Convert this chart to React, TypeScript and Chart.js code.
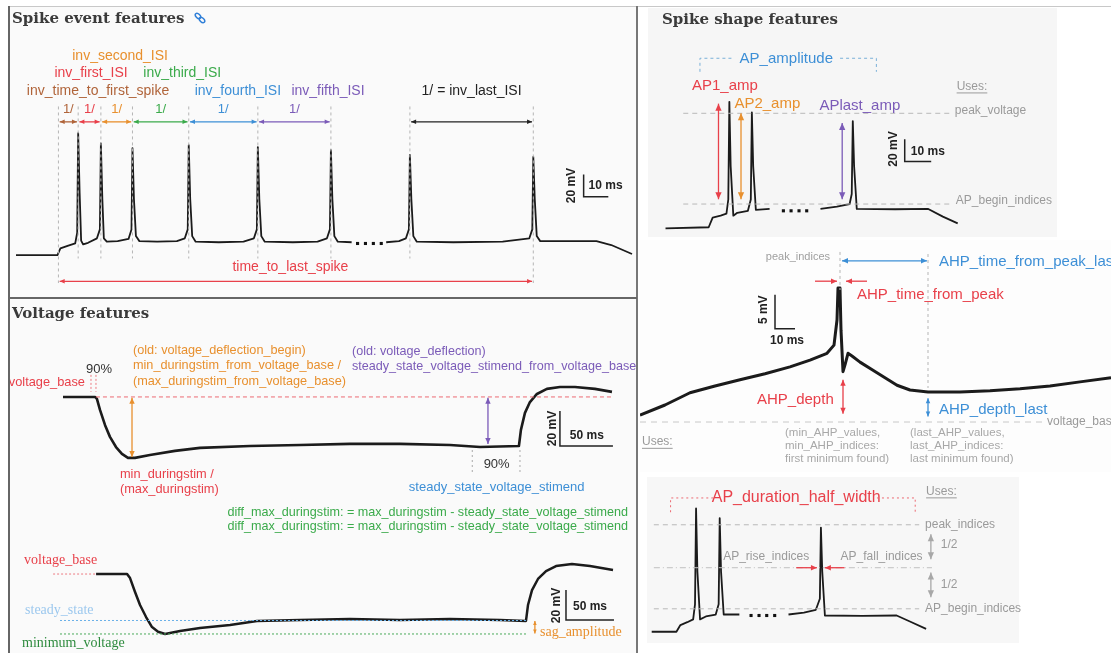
import React, { useEffect, useRef } from "react";
import { Chart, registerables } from "chart.js";
Chart.register(...registerables);

type P = [number, number];

// ================= DATA (ms, mV) =================
// Spike event features
const eventTraceA: P[] = [
  [-17.2, -75], [-0.4, -75], [0.8, -69], [4, -66.5], [6.8, -64.5],
  [7.6, -55], [8, 34], [8.6, -20], [9.2, -62], [10, -65.4], [12, -64], [15.6, -60],
  [16.8, -52], [17.2, 25], [17.8, -25], [18.4, -60], [19.6, -63], [24, -62.5], [28.4, -60.5],
  [29.6, -52], [30, 20.7], [30.6, -25], [31.4, -58], [32.8, -62.5], [40, -63], [48, -62.5], [51.2, -60],
  [52.4, -52], [52.8, 23.3], [53.4, -25], [54.2, -58], [55.6, -63], [65, -63.5], [75, -63], [79.2, -60],
  [80.4, -52], [80.8, 21.6], [81.4, -25], [82.2, -58], [83.6, -63], [95, -63.5], [105, -63], [108.8, -60],
  [110, -52], [110.4, 19], [111, -25], [111.8, -58], [113.2, -63], [118.8, -63.5],
];
const eventTraceB: P[] = [
  [132.8, -63.5], [138, -62.5], [140.8, -60],
  [142, -52], [142.4, 14.6], [143, -25], [143.8, -58], [145.2, -63], [160, -63.5], [180, -63], [190.8, -60],
  [192, -52], [192.4, 12.9], [193, -25], [193.8, -58], [195.2, -62.5], [205, -62.5], [218, -62.5], [224, -66], [232.4, -74],
];
const eventDots: P[] = [[121.2, -64.6], [124.4, -64.6], [127.6, -64.6], [130.8, -64.6]];
const eventSpikeTimes = [8, 17.2, 30, 52.8, 80.8, 110.4, 142.4, 192.4];
const eventStimStart = 0;

// Voltage features
const voltageTrace: P[] = [
  [-31.1, -70], [-0.9, -70], [0.9, -71.1], [3.8, -77.4], [8.5, -86], [13.2, -92.8], [18.9, -98.6],
  [24.5, -102.5], [30.2, -104.8], [36.8, -104.8], [50.9, -103.1], [74.5, -100.8], [98.1, -99.1],
  [145.3, -98], [192.5, -97.4], [239.6, -96.8], [286.8, -96.8], [334, -97.4], [362.3, -98.6], [399, -98],
  [400.9, -88.8], [404.7, -79.1], [409.4, -72.9], [416, -68.3], [425.4, -65.4], [437.7, -64.3],
  [451.9, -64.3], [470.7, -65.4], [486.8, -67.1],
];
const voltageBase = -70;
const voltageMin = -104.8;
const voltageSteady = -97.4;

// Sag
const sagTrace: P[] = [
  [-33.3, -70], [-1, -70], [2.1, -72.7], [7.3, -82], [12.5, -90.7], [18.8, -98.7], [25, -105.4],
  [31.3, -108.5], [38.6, -110], [54.2, -108], [75, -106], [106.3, -104], [134.4, -101.3], [179.2, -100.7],
  [231.3, -100], [283.4, -100.7], [335.5, -100], [387.6, -100.7], [414.7, -101.3], [416.8, -90.7],
  [421, -80.7], [427.2, -73.3], [435.6, -68], [446, -64.7], [462.6, -63.3], [481.4, -64.7], [505.4, -67.3],
];
const sagBase = -70;
const sagSteady = -101;
const sagMinimum = -110;

// Spike shape features (amplitude)
const shapeTraceA: P[] = [
  [-16.7, -76], [-0.4, -75], [1.1, -66.3], [4.1, -64.6], [6.3, -62.8],
  [7, -50], [7.4, 38], [7.9, -20], [8.9, -64.6], [10.4, -62], [14.4, -60.2],
  [15.5, -50], [15.9, 28.5], [16.4, -20], [17.4, -59.3], [22.6, -58.5],
];
const shapeTraceB: P[] = [
  [41.8, -58.5], [48, -56.5], [52.8, -54.1], [53.6, -45], [54, 20.7], [54.5, -20], [55.5, -58.5],
  [70, -58.8], [82.5, -58.5], [88, -65.4], [93.6, -71.5],
];
const shapeDots: P[] = [[27.8, -60.2], [30.7, -60.2], [33.7, -60.2], [36.6, -60.2]];
const shapePeak = 27.7;
const shapeBegin = -54.1;

// AHP
const ahpTrace: P[] = [
  [-99.5, -69], [-87, -67.5], [-74.5, -65.7], [-62, -64.7], [-49.5, -63.8], [-37, -62.9], [-24.5, -61.9],
  [-14.5, -60.9], [-6, -59.9], [-2.5, -58.7], [-1, -55], [-0.5, -50.3], [0.5, -50.3], [1, -56.5],
  [2, -62.6], [3, -61.6], [4.5, -59.9], [6.5, -60.3], [10.5, -61.2], [17, -62.4], [23, -63.5],
  [29, -64.6], [35.5, -65.3], [44.5, -65.6], [60.5, -65.6], [75.5, -65.4], [90.5, -65.1],
  [105.5, -64.7], [120.5, -64.1], [136, -63.5],
];
const ahpBase = -70;

// Half width
const widthTraceA: P[] = [
  [-9.3, -75], [0, -75], [1.5, -68.9], [4.1, -66.3], [6.3, -63.7],
  [7, -50], [7.4, 37.2], [7.9, -20], [8.9, -63.7], [11.1, -61.1], [14.8, -59.3],
  [15.9, -50], [16.3, 28.5], [16.8, -20], [17.8, -59.3], [23.7, -59.3],
];
const widthTraceB: P[] = [
  [42.2, -59.3], [48, -57.5], [52.5, -55], [54, -45], [54.4, 19.8], [54.9, -20], [55.9, -60.2],
  [70, -60.5], [82.9, -60.2], [87.7, -65.4], [94, -72.4],
];
const widthDots: P[] = [[28.1, -60.2], [31.1, -60.2], [34, -60.2], [37, -60.2]];
const widthPeak = 22.4;
const widthHalf = -16.7;
const widthBegin = -54.1;

// ================= STYLE =================
const RED = "#e8404a";
const ORANGE = "#e8902e";
const GREEN = "#3aaa4a";
const BLUE = "#3d8fd6";
const PURPLE = "#7b5bb8";
const BROWN = "#b0643a";
const BLACK = "#222";
const GRAY = "#9a9a9a";
const SANS = '"Liberation Sans", Arial, sans-serif';
const SERIF = '"Liberation Serif", serif';

type Ann =
  | { k: "t"; x: number; y: number; s: string; c: string; z: number; a?: CanvasTextAlign; f?: string; u?: boolean; rot?: boolean; b?: boolean }
  | { k: "l"; p: P[]; c: string; d?: number[]; w?: number }
  | { k: "a"; p1: P; p2: P; c: string; both?: boolean; h?: number; w?: number };

const T = (x: number, y: number, s: string, c: string, z: number, a: CanvasTextAlign = "left", extra: any = {}): Ann => ({ k: "t", x, y, s, c, z, a, ...extra });
const L = (p: P[], c: string, d?: number[], w?: number): Ann => ({ k: "l", p, c, d, w });
const A = (p1: P, p2: P, c: string, both = true, h = 6): Ann => ({ k: "a", p1, p2, c, both, h });

function drawAnns(chart: any, anns: Ann[]) {
  const ctx: CanvasRenderingContext2D = chart.ctx;
  const xs = chart.scales.x, ys = chart.scales.y;
  const X = (v: number) => xs.getPixelForValue(v);
  const Y = (v: number) => ys.getPixelForValue(v);
  ctx.save();
  for (const a of anns) {
    if (a.k === "l") {
      ctx.beginPath();
      ctx.setLineDash(a.d || []);
      ctx.strokeStyle = a.c;
      ctx.lineWidth = a.w || 1;
      a.p.forEach((q, i) => (i ? ctx.lineTo(X(q[0]), Y(q[1])) : ctx.moveTo(X(q[0]), Y(q[1]))));
      ctx.stroke();
    } else if (a.k === "a") {
      const x1 = X(a.p1[0]), y1 = Y(a.p1[1]), x2 = X(a.p2[0]), y2 = Y(a.p2[1]);
      ctx.setLineDash([]);
      ctx.strokeStyle = a.c;
      ctx.fillStyle = a.c;
      ctx.lineWidth = a.w || 1.3;
      ctx.beginPath();
      ctx.moveTo(x1, y1);
      ctx.lineTo(x2, y2);
      ctx.stroke();
      const h = a.h || 6;
      const head = (tx: number, ty: number, fx: number, fy: number) => {
        const ang = Math.atan2(ty - fy, tx - fx);
        ctx.beginPath();
        ctx.moveTo(tx, ty);
        ctx.lineTo(tx - h * Math.cos(ang) + (h * 0.45) * Math.sin(ang), ty - h * Math.sin(ang) - (h * 0.45) * Math.cos(ang));
        ctx.lineTo(tx - h * Math.cos(ang) - (h * 0.45) * Math.sin(ang), ty - h * Math.sin(ang) + (h * 0.45) * Math.cos(ang));
        ctx.closePath();
        ctx.fill();
      };
      head(x2, y2, x1, y1);
      if (a.both) head(x1, y1, x2, y2);
    } else {
      ctx.setLineDash([]);
      ctx.fillStyle = a.c;
      ctx.font = `${a.b ? "bold " : ""}${a.z}px ${a.f || SANS}`;
      ctx.textBaseline = "middle";
      const x = X(a.x), y = Y(a.y);
      if (a.rot) {
        ctx.save();
        ctx.translate(x, y);
        ctx.rotate(-Math.PI / 2);
        ctx.textAlign = "center";
        ctx.fillText(a.s, 0, 0);
        ctx.restore();
      } else {
        ctx.textAlign = a.a || "left";
        ctx.fillText(a.s, x, y);
        if (a.u) {
          const w = ctx.measureText(a.s).width;
          ctx.strokeStyle = a.c;
          ctx.lineWidth = 1;
          ctx.beginPath();
          ctx.moveTo(x, y + a.z * 0.55);
          ctx.lineTo(x + w, y + a.z * 0.55);
          ctx.stroke();
        }
      }
    }
  }
  ctx.restore();
}

const trace = (d: P[], w = 1.8) => ({
  data: d.map((q) => ({ x: q[0], y: q[1] })),
  showLine: true,
  borderColor: "#1b1b1b",
  borderWidth: w,
  pointRadius: 0,
  tension: 0,
  borderJoinStyle: "round" as const,
});
const dots = (d: P[]) => ({
  data: d.map((q) => ({ x: q[0], y: q[1] })),
  showLine: false,
  pointStyle: "rect" as const,
  pointRadius: 2.2,
  backgroundColor: "#111",
  borderWidth: 0,
});

type PanelCfg = { left: number; top: number; w: number; h: number; x: [number, number]; y: [number, number]; datasets: any[]; anns: Ann[] };

function Panel({ cfg }: { cfg: PanelCfg }) {
  const ref = useRef<HTMLCanvasElement>(null);
  useEffect(() => {
    const chart = new Chart(ref.current as HTMLCanvasElement, {
      type: "scatter",
      data: { datasets: cfg.datasets },
      options: {
        animation: false,
        responsive: false,
        maintainAspectRatio: false,
        events: [],
        layout: { padding: 0 },
        scales: {
          x: { type: "linear", min: cfg.x[0], max: cfg.x[1], display: false },
          y: { type: "linear", min: cfg.y[0], max: cfg.y[1], display: false },
        },
        plugins: { legend: { display: false }, tooltip: { enabled: false } },
      },
      plugins: [{ id: "anns", afterDatasetsDraw: (c: any) => drawAnns(c, cfg.anns) }],
    } as any);
    return () => chart.destroy();
  }, []);
  return (
    <canvas
      ref={ref}
      width={cfg.w}
      height={cfg.h}
      style={{ position: "absolute", left: cfg.left, top: cfg.top, width: cfg.w, height: cfg.h }}
    />
  );
}

// ================= PANELS =================
const isiColors = [BROWN, RED, ORANGE, GREEN, BLUE, PURPLE];
const isiStarts = [eventStimStart, ...eventSpikeTimes.slice(0, 5)];
const isiEnds = eventSpikeTimes.slice(0, 6);
const lastStart = eventSpikeTimes[6];
const lastEnd = eventSpikeTimes[7];
const SB = { b: true };

const panelEvent: PanelCfg = {
  left: 10, top: 8, w: 627, h: 290, x: [-18, 232.8], y: [-109.8, 142.5],
  datasets: [trace(eventTraceA), trace(eventTraceB), dots(eventDots)],
  anns: [
    L([[eventStimStart, 58], [eventStimStart, -100]], "#b5b5b5", [3, 3]),
    ...eventSpikeTimes.map((t, i) =>
      L([[t, 58], [t, i === eventSpikeTimes.length - 1 ? -100 : -78]], "#b5b5b5", [3, 3])
    ),
    ...isiStarts.map((s, i) => A([s + 0.5, 44.2], [isiEnds[i] - 0.5, 44.2], isiColors[i], true, 5)),
    ...isiStarts.map((s, i) => T((s + isiEnds[i]) / 2, 55.5, "1/", isiColors[i], 13, "center")),
    A([lastStart + 0.5, 44.2], [lastEnd - 0.5, 44.2], BLACK, true, 5),
    T(5.6, 103.4, "inv_second_ISI", ORANGE, 14),
    T(-1.6, 87.7, "inv_first_ISI", RED, 14),
    T(34.4, 87.7, "inv_third_ISI", GREEN, 14),
    T(-12.8, 72, "inv_time_to_first_spike", BROWN, 14),
    T(55.2, 72, "inv_fourth_ISI", BLUE, 14),
    T(94.4, 72, "inv_fifth_ISI", PURPLE, 14),
    T((lastStart + lastEnd) / 2, 72, "1/ = inv_last_ISI", BLACK, 14, "center"),
    T(94, -85.4, "time_to_last_spike", RED, 14, "center"),
    A([eventStimStart + 0.5, -98.5], [lastEnd - 0.5, -98.5], RED, true, 5),
    L([[212.8, -2.8], [212.8, -22.8], [222.8, -22.8]], BLACK, [], 1.5),
    T(214.8, -13.2, "10 ms", BLACK, 12, "left", SB),
    T(208, -12.8, "20 mV", BLACK, 12, "center", { rot: true, b: true }),
  ],
};

const panelVoltage: PanelCfg = {
  left: 10, top: 298, w: 627, h: 245, x: [-81.1, 510.4], y: [-153.4, -13.5],
  datasets: [trace(voltageTrace, 2.6)],
  anns: [
    L([[0, voltageBase], [487, voltageBase]], "#ec6a72", [4, 3]),
    L([[-4.7, -57.4], [-4.7, -67.1]], "#ec7a82", [2, 2]),
    L([[0, -57.4], [0, -67.1]], "#ec7a82", [2, 2]),
    T(-9.4, -54, "90%", "#333", 13),
    T(-10.4, -62, "voltage_base", RED, 12.8, "right"),
    A([34, voltageBase - 0.5], [34, voltageMin + 0.5], ORANGE, true, 6),
    T(34.9, -43.7, "(old: voltage_deflection_begin)", ORANGE, 12.7),
    T(34.9, -52.3, "min_duringstim_from_voltage_base /", ORANGE, 12.7),
    T(34.9, -60.9, "(max_duringstim_from_voltage_base)", ORANGE, 12.7),
    T(22.6, -114.5, "min_duringstim /", RED, 12.8),
    T(22.6, -123.1, "(max_duringstim)", RED, 12.8),
    T(241.5, -44.3, "(old: voltage_deflection)", PURPLE, 12.6),
    T(241.5, -52.9, "steady_state_voltage_stimend_from_voltage_base", PURPLE, 12.6),
    A([369.8, voltageBase - 0.5], [369.8, voltageSteady + 0.5], PURPLE, true, 6),
    L([[355, -100.3], [355, -113.4]], "#aaa", [2, 3]),
    L([[400, -100.3], [400, -113.4]], "#aaa", [2, 3]),
    T(378, -108.8, "90%", "#333", 13, "center"),
    T(378, -121.4, "steady_state_voltage_stimend", BLUE, 13, "center"),
    L([[437.7, -78], [437.7, -98], [487.7, -98]], BLACK, [], 1.5),
    T(447, -92.3, "50 ms", BLACK, 12, "left", SB),
    T(431, -88, "20 mV", BLACK, 12, "center", { rot: true, b: true }),
    T(501.9, -136.2, "diff_max_duringstim: = max_duringstim - steady_state_voltage_stimend", GREEN, 12.6, "right"),
    T(501.9, -144.2, "diff_max_duringstim: = max_duringstim - steady_state_voltage_stimend", GREEN, 12.6, "right"),
  ],
};

const panelSag: PanelCfg = {
  left: 10, top: 543, w: 627, h: 110, x: [-123, 530.4], y: [-122.7, -49.3],
  datasets: [trace(sagTrace, 2.5)],
  anns: [
    L([[-78.1, sagBase], [-33.3, sagBase]], "#ec7a82", [2, 2]),
    T(-108.4, -60.7, "voltage_base", RED, 14, "left", { f: SERIF }),
    L([[-70.9, sagSteady], [415.8, sagSteady]], "#6ab0e8", [2, 2]),
    L([[-70.9, sagMinimum], [415.8, sagMinimum]], "#4aaa5a", [2, 2]),
    T(-107.3, -94, "steady_state", "#9cc8ee", 14, "left", { f: SERIF }),
    T(-110.5, -116, "minimum_voltage", "#2e8b3e", 14, "left", { f: SERIF }),
    A([424, sagSteady - 0.3], [424, sagMinimum + 0.3], ORANGE, true, 4),
    T(429.3, -108.7, "sag_amplitude", ORANGE, 14, "left", { f: SERIF }),
    L([[456.4, -80.7], [456.4, -100.7], [506.4, -100.7]], BLACK, [], 1.5),
    T(463.7, -92, "50 ms", BLACK, 12, "left", SB),
    T(447, -91, "20 mV", BLACK, 12, "center", { rot: true, b: true }),
  ],
};

const panelShape: PanelCfg = {
  left: 648, top: 8, w: 408, h: 229, x: [-21.8, 129.2], y: [-80.2, 119],
  datasets: [trace(shapeTraceA), trace(shapeTraceB), dots(shapeDots)],
  anns: [
    L([[-10, shapePeak], [91, shapePeak]], "#b8b8b8", [5, 4]),
    L([[-10, shapeBegin], [91, shapeBegin]], "#b8b8b8", [5, 4]),
    T(92.5, 30.3, "peak_voltage", GRAY, 12),
    T(92.9, -51.5, "AP_begin_indices", GRAY, 12),
    T(93.2, 52, "Uses:", GRAY, 12, "left", { u: true }),
    A([3.3, 36.4], [3.3, -49.8], RED, true, 7),
    A([11.8, shapePeak], [11.8, -49.8], ORANGE, true, 7),
    A([50, 19], [50, -49.8], PURPLE, true, 7),
    T(-6.7, 52, "AP1_amp", RED, 15),
    T(9.3, 36.4, "AP2_amp", ORANGE, 15),
    T(41.4, 34.6, "APlast_amp", PURPLE, 15),
    T(28.9, 76.4, "AP_amplitude", BLUE, 15, "center"),
    L([[-3.7, 65.1], [-3.7, 77.3], [8.5, 77.3]], "#7ab0d8", [3, 3]),
    L([[49.2, 77.3], [62.9, 77.3], [62.9, 65.1]], "#7ab0d8", [3, 3]),
    L([[73.6, 4.2], [73.6, -15.8], [83.6, -15.8]], BLACK, [], 1.5),
    T(75.9, -7.1, "10 ms", BLACK, 12, "left", SB),
    T(69.6, -4.5, "20 mV", BLACK, 12, "center", { rot: true, b: true }),
  ],
};

const panelAhp: PanelCfg = {
  left: 640, top: 238, w: 471, h: 234, x: [-99.5, 136], y: [-77.35, -42.95],
  datasets: [trace(ahpTrace, 3)],
  anns: [
    L([[-99.5, ahpBase], [101.5, ahpBase]], "#c8c8c8", [6, 5]),
    T(104, ahpBase, "voltage_base", GRAY, 12),
    T(-4.5, -45.7, "peak_indices", "#a0a0a0", 11, "right"),
    L([[0.5, -45], [0.5, -50.6]], "#b5b5b5", [3, 3]),
    L([[44.5, -45.3], [44.5, -65]], "#b5b5b5", [3, 3]),
    A([1.5, -46.3], [44, -46.3], BLUE, true, 6),
    T(50, -46.5, "AHP_time_from_peak_last", BLUE, 15),
    A([-12, -49.3], [-1, -49.3], RED, false, 6),
    A([14, -49.3], [3.5, -49.3], RED, false, 6),
    T(9, -51.3, "AHP_time_from_peak", RED, 15),
    L([[-32, -51.3], [-32, -56.3], [-22, -56.3]], BLACK, [], 1.5),
    T(-34.5, -58.1, "10 ms", BLACK, 12, "left", SB),
    T(-37.5, -53.5, "5 mV", BLACK, 12, "center", { rot: true, b: true }),
    A([2, -63.8], [2, -68.8], RED, true, 6),
    T(-41, -66.8, "AHP_depth", RED, 15),
    A([44.5, -66.5], [44.5, -69.2], BLUE, true, 5),
    T(50, -68.2, "AHP_depth_last", BLUE, 15),
    T(-98.5, -72.9, "Uses:", GRAY, 12, "left", { u: true }),
    T(-27, -71.6, "(min_AHP_values,", "#a8a8a8", 11.5),
    T(-27, -73.5, "min_AHP_indices:", "#a8a8a8", 11.5),
    T(-27, -75.4, "first minimum found)", "#a8a8a8", 11.5),
    T(35.5, -71.6, "(last_AHP_values,", "#a8a8a8", 11.5),
    T(35.5, -73.5, "last_AHP_indices:", "#a8a8a8", 11.5),
    T(35.5, -75.4, "last minimum found)", "#a8a8a8", 11.5),
  ],
};

const panelWidth: PanelCfg = {
  left: 640, top: 472, w: 471, h: 181, x: [-12.2, 162.1], y: [-90.7, 66.8],
  datasets: [trace(widthTraceA), trace(widthTraceB), dots(widthDots)],
  anns: [
    L([[-8.5, widthPeak], [91.4, widthPeak]], "#b8b8b8", [5, 4]),
    L([[-8.5, widthHalf], [96.2, widthHalf]], "#c0c0c0", [6, 3, 1, 3]),
    L([[-8.5, widthBegin], [91.4, widthBegin]], "#b8b8b8", [5, 4]),
    T(93.6, widthPeak, "peak_indices", GRAY, 12),
    T(93.6, widthBegin, "AP_begin_indices", GRAY, 12),
    A([95.8, 13.7], [95.8, -8.9], "#a8a8a8", true, 7),
    A([95.8, -21.1], [95.8, -43.7], "#a8a8a8", true, 7),
    T(99.5, 4.2, "1/2", GRAY, 12),
    T(99.5, -32.4, "1/2", GRAY, 12),
    T(94, 52.9, "Uses:", GRAY, 12, "left", { u: true }),
    T(45.1, 46.8, "AP_duration_half_width", RED, 16, "center"),
    L([[-2.2, 33.8], [-2.2, 46.8], [14.5, 46.8]], "#ec6a72", [2, 3]),
    L([[75.5, 46.8], [89.9, 46.8], [89.9, 33.8]], "#ec6a72", [2, 3]),
    T(50, -7.1, "AP_rise_indices", GRAY, 12, "right"),
    T(61.8, -7.1, "AP_fall_indices", GRAY, 12),
    A([45.1, widthHalf], [52.9, widthHalf], RED, false, 6),
    A([63.3, widthHalf], [55.9, widthHalf], RED, false, 6),
  ],
};

const box = (left: number, top: number, width: number, height: number, bg: string): React.CSSProperties => ({
  position: "absolute", left, top, width, height, background: bg,
});
const titleStyle = (left: number, top: number): React.CSSProperties => ({
  position: "absolute", left, top, font: 'bold 15px "DejaVu Serif", serif', color: "#3a3a3a", whiteSpace: "nowrap", zIndex: 2,
});

export default function App() {
  return (
    <div style={{ position: "fixed", left: 0, top: 0, width: 1111, height: 653, background: "#fff", overflow: "hidden" }}>
      <div style={box(9, 7, 628, 646, "#fafafa")} />
      <div style={box(648, 8, 409, 229, "#f6f6f6")} />
      <div style={box(640, 240, 471, 232, "#fdfdfd")} />
      <div style={box(647, 477, 372, 166, "#f7f7f7")} />
      <div style={box(9, 6, 1102, 1, "#c8c8c8")} />
      <div style={box(8, 6, 2, 647, "#666")} />
      <div style={box(636, 6, 2, 647, "#777")} />
      <div style={box(9, 297, 628, 2, "#666")} />
      <Panel cfg={panelEvent} />
      <Panel cfg={panelVoltage} />
      <Panel cfg={panelSag} />
      <Panel cfg={panelShape} />
      <Panel cfg={panelAhp} />
      <Panel cfg={panelWidth} />
      <div style={titleStyle(12, 9)}>Spike event features</div>
      <svg style={{ position: "absolute", left: 194, top: 12, zIndex: 2 }} width="12" height="12" viewBox="0 0 12 12">
        <ellipse cx="4" cy="4" rx="3.2" ry="2" transform="rotate(45 4 4)" fill="none" stroke="#2f7fd8" strokeWidth="1.5" />
        <ellipse cx="8" cy="8" rx="3.2" ry="2" transform="rotate(45 8 8)" fill="none" stroke="#2f7fd8" strokeWidth="1.5" />
      </svg>
      <div style={titleStyle(12, 304)}>Voltage features</div>
      <div style={titleStyle(662, 10)}>Spike shape features</div>
    </div>
  );
}
